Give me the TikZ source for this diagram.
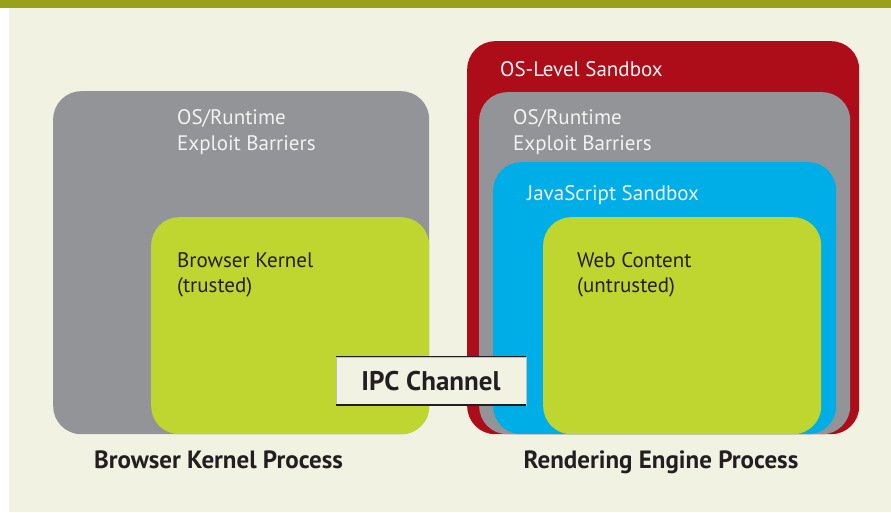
\documentclass[tikz,border=0pt]{standalone}
\usepackage{fontspec}
\setmainfont{PT Sans}
\usepackage{tikz}

\definecolor{bgcream}{HTML}{F2F2E3}
\definecolor{barolive}{HTML}{98A218}
\definecolor{osred}{HTML}{AC0D18}
\definecolor{rtgray}{HTML}{939498}
\definecolor{jsblue}{HTML}{00AEE7}
\definecolor{contgreen}{HTML}{BED62F}
\definecolor{inkdark}{HTML}{231F20}
\definecolor{inklight}{HTML}{F2F2F2}

\begin{document}
\begin{tikzpicture}[x=1pt,y=-1pt,
                    box/.style={anchor=north west,rounded corners=28pt,inner sep=0pt,draw=none},
                    lbl/.style={anchor=base west,inner sep=0pt,text=inklight,font=\fontsize{21}{25}\selectfont},
                    dlbl/.style={lbl,text=inkdark},
                    proc/.style={anchor=base,inner sep=0pt,text=inkdark,font=\fontsize{25}{29}\selectfont\bfseries}]
  \useasboundingbox (0,0) rectangle (891,512);
  \fill[white] (0,0) rectangle (891,512);
  \fill[bgcream] (9,0) rectangle (891,512);
  \fill[barolive] (0,0) rectangle (891,8);

  % browser kernel process
  \node[box,fill=rtgray,minimum width=376pt,minimum height=343pt]    (BG) at (53,91) {};
  \node[box,fill=contgreen,minimum width=278pt,minimum height=217pt] (BK) at (151,217) {};

  % rendering engine process
  \node[box,fill=osred,minimum width=392pt,minimum height=393pt]     (OS) at (467,41) {};
  \node[box,fill=rtgray,minimum width=371pt,minimum height=342pt]    (RG) at (479,92) {};
  \node[box,fill=jsblue,minimum width=343pt,minimum height=272pt]    (JS) at (493,162) {};
  \node[box,fill=contgreen,minimum width=278pt,minimum height=217pt] (WC) at (543,217) {};

  \node[lbl]  (BG1) at (177,124) {OS/Runtime};
  \node[lbl]  (BG2) at (177,150) {Exploit Barriers};
  \node[dlbl] (BK1) at (177,267) {Browser Kernel};
  \node[dlbl] (BK2) at (177,292) {(trusted)};

  \node[lbl]  (OS1) at (500,76) {OS-Level Sandbox};
  \node[lbl]  (RG1) at (513,124) {OS/Runtime};
  \node[lbl]  (RG2) at (513,150) {Exploit Barriers};
  \node[lbl]  (JS1) at (527,200) {JavaScript Sandbox};
  \node[dlbl] (WC1) at (577,267) {Web Content};
  \node[dlbl] (WC2) at (577,292) {(untrusted)};

  \node[fill=bgcream,draw=rtgray!60,thin,minimum width=190pt,minimum height=48pt,
        inner sep=0pt,text=inkdark,font=\fontsize{27}{31}\selectfont\bfseries] (IPC) at (431,381) {IPC Channel};
  \draw[inkdark,line width=1.2pt] (IPC.north west) -- (IPC.north east);
  \draw[inkdark,line width=2pt] (IPC.south west) -- (IPC.south east);

  \node[proc] (BKP) at (218.5,468) {Browser Kernel Process};
  \node[proc] (REP) at (661,468) {Rendering Engine Process};
\end{tikzpicture}
\end{document}
